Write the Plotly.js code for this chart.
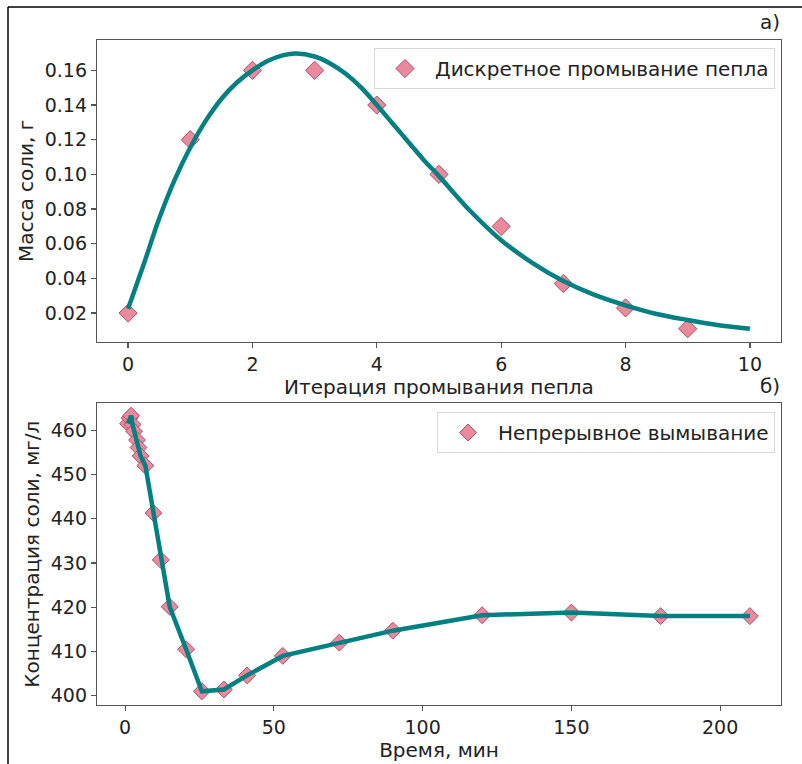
<!DOCTYPE html>
<html>
<head>
<meta charset="utf-8">
<script src="https://cdn.plot.ly/plotly-3.0.1.min.js"></script>
<style>html,body{margin:0;padding:0;background:#fff;}#chart{width:802px;height:764px;}</style>
</head>
<body>
<div id="chart"></div>
<script>
// ---- Panel a): discrete washing ----
const iterPoints = [0, 1, 2, 3, 4, 5, 6, 7, 8, 9];
const saltMass = [0.020, 0.120, 0.160, 0.160, 0.140, 0.100, 0.070, 0.037, 0.023, 0.011];
// fitted curve
const fitX = [0, 0.25, 0.5, 0.75, 1.0, 1.25, 1.5, 1.75, 2.0, 2.25, 2.5, 2.7, 3.0, 3.25, 3.5, 3.75, 4.0, 4.25, 4.5, 4.75, 5.0, 5.5, 6.0, 6.5, 7.0, 7.5, 8.0, 8.5, 9.0, 9.5, 10.0];
const fitY = [0.0225, 0.048, 0.0745, 0.097, 0.1155, 0.131, 0.1435, 0.1530, 0.1600, 0.1655, 0.1688, 0.1697, 0.168, 0.164, 0.158, 0.150, 0.140, 0.1295, 0.119, 0.1085, 0.099, 0.079, 0.062, 0.049, 0.0385, 0.0305, 0.0245, 0.0195, 0.016, 0.013, 0.011];
// ---- Panel б): continuous leaching ----
const timeMin = [1, 1.5, 2, 2.5, 3, 4, 4.5, 5.2, 6.8, 9.5, 12, 15, 20.5, 25.8, 33.2, 41, 53, 72, 90, 120, 150, 180, 210];
const concentration = [461.5, 462.8, 463.3, 461.3, 459.8, 457.8, 456.1, 454.2, 452.0, 441.3, 430.7, 420.1, 410.5, 401.0, 401.4, 404.6, 409.0, 412.0, 414.7, 418.2, 418.8, 418.0, 418.0];

const nameA = "Дискретное промывание пепла";
const nameB = "Непрерывное вымывание";

const pink = "#ec8a9d";
const pinkEdge = "#a4506a";
const teal = "#008080";
const FONT = "DejaVu Sans, sans-serif";
const W = 802, H = 764;
const L = 97, R = 781;
const px = v => v / W;
const py = v => 1 - v / H;
const TXT = "#222";

const traces = [
  {x: iterPoints, y: saltMass, type: "scatter", mode: "markers", name: nameA,
   marker: {symbol: "diamond", size: 14, color: pink, line: {color: pinkEdge, width: 1}},
   xaxis: "x", yaxis: "y", legend: "legend"},
  {x: fitX, y: fitY, type: "scatter", mode: "lines", showlegend: false,
   line: {color: teal, width: 4.5, shape: "spline", smoothing: 1},
   xaxis: "x", yaxis: "y", hoverinfo: "skip"},
  {x: timeMin, y: concentration, type: "scatter", mode: "markers", name: nameB,
   marker: {symbol: "diamond", size: 13, color: pink, line: {color: pinkEdge, width: 1}},
   xaxis: "x2", yaxis: "y2", legend: "legend2"},
  {x: timeMin, y: concentration, type: "scatter", mode: "lines", showlegend: false,
   line: {color: teal, width: 4.5},
   xaxis: "x2", yaxis: "y2", hoverinfo: "skip"}
];

const axisCommon = {
  showgrid: false, zeroline: false, showline: true, mirror: true,
  linecolor: "#555", linewidth: 1.2, ticks: "outside", ticklen: 5, tickwidth: 1.2,
  tickcolor: "#555", tickfont: {family: FONT, size: 19, color: TXT}
};
const titleFont = {family: FONT, size: 20, color: TXT};

const layout = {
  width: W, height: H,
  margin: {l: 0, r: 0, t: 0, b: 0},
  paper_bgcolor: "#fff", plot_bgcolor: "#fff",
  font: {family: FONT, color: TXT},
  xaxis: Object.assign({}, axisCommon, {
    domain: [px(L), px(R)], anchor: "y", range: [-0.5, 10.5],
    tickvals: [0, 2, 4, 6, 8, 10],
    title: {text: "Итерация промывания пепла", font: titleFont, standoff: 4}
  }),
  yaxis: Object.assign({}, axisCommon, {
    domain: [py(341.7), py(40)], anchor: "x", range: [0.0035, 0.1775],
    tickvals: [0.02, 0.04, 0.06, 0.08, 0.10, 0.12, 0.14, 0.16], tickformat: ".2f",
    title: {text: "Масса соли, г", font: titleFont, standoff: 5}
  }),
  xaxis2: Object.assign({}, axisCommon, {
    domain: [px(L), px(R)], anchor: "y2", range: [-9.45, 220.45],
    tickvals: [0, 50, 100, 150, 200],
    title: {text: "Время, мин", font: titleFont, standoff: 4}
  }),
  yaxis2: Object.assign({}, axisCommon, {
    domain: [py(705), py(403.3)], anchor: "x2", range: [397.9, 466.1],
    tickvals: [400, 410, 420, 430, 440, 450, 460],
    title: {text: "Концентрация соли, мг/л", font: titleFont, standoff: 5}
  }),
  legend: {
    x: px(775), y: py(48), xref: "paper", yref: "paper", xanchor: "right", yanchor: "top",
    bgcolor: "#fff", bordercolor: "#d8d8d8", borderwidth: 1,
    font: {family: FONT, size: 20, color: TXT}, itemwidth: 50
  },
  legend2: {
    x: px(775), y: py(412), xref: "paper", yref: "paper", xanchor: "right", yanchor: "top",
    bgcolor: "#fff", bordercolor: "#d8d8d8", borderwidth: 1,
    font: {family: FONT, size: 20, color: TXT}, itemwidth: 50
  },
  annotations: [
    {text: "а)", x: px(770), y: py(22), xref: "paper", yref: "paper", showarrow: false,
     xanchor: "center", yanchor: "middle", font: {family: FONT, size: 20, color: TXT}},
    {text: "б)", x: px(770), y: py(386), xref: "paper", yref: "paper", showarrow: false,
     xanchor: "center", yanchor: "middle", font: {family: FONT, size: 20, color: TXT}}
  ],
  shapes: [
    {type: "line", xref: "paper", yref: "paper", x0: px(8), x1: px(8), y0: 0, y1: py(7), line: {color: "#000", width: 1.5}},
    {type: "line", xref: "paper", yref: "paper", x0: px(8), x1: 1, y0: py(7), y1: py(7), line: {color: "#000", width: 1.5}}
  ],
  showlegend: true
};

Plotly.newPlot("chart", traces, layout, {staticPlot: true, displayModeBar: false});
</script>
</body>
</html>
